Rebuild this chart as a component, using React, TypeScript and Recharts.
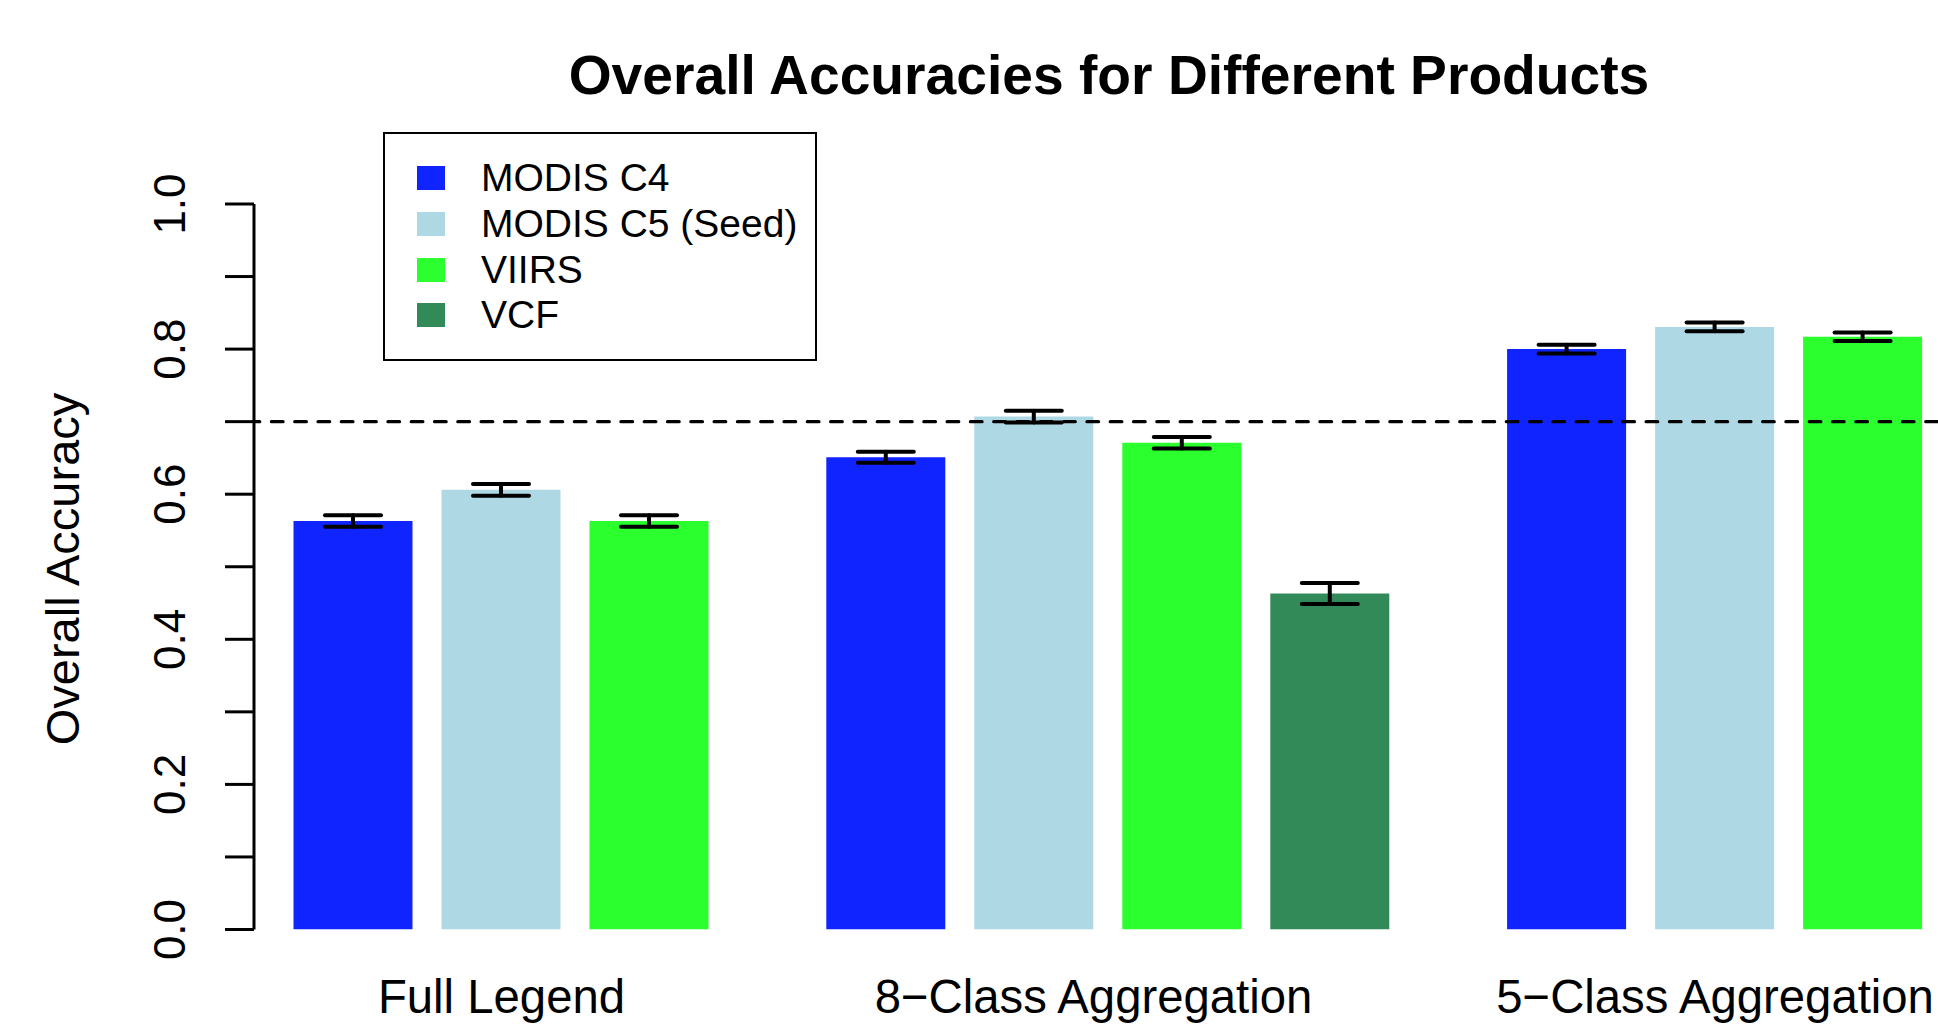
import React from 'react';
import { BarChart, Bar, XAxis, YAxis, Cell, ErrorBar, ReferenceLine, Legend } from 'recharts';

// ---------- data ----------
const groupLabels = ['Full Legend', '8\u2212Class Aggregation', '5\u2212Class Aggregation'];
const productNames = ['MODIS C4', 'MODIS C5 (Seed)', 'VIIRS', 'VCF'];
const productColors = ['#1024FF', '#AFD8E5', '#2BFF2E', '#338A59'];

// overall accuracy per group (null = product not evaluated in that group)
const modisC4 = [0.563, 0.651, 0.8];
const modisC5 = [0.606, 0.707, 0.8305];
const viirs = [0.563, 0.671, 0.817];
const vcf: (number | null)[] = [null, 0.463, null];

// half-width of the error bars
const modisC4Err = [0.008, 0.0075, 0.006];
const modisC5Err = [0.008, 0.008, 0.006];
const viirsErr = [0.008, 0.008, 0.006];
const vcfErr: (number | null)[] = [null, 0.0145, null];

// positions of the group labels along the bar axis (in bar-width units)
const groupLabelPositions = [1.25, 6.25, 11.5];

const yTicks = [0, 0.1, 0.2, 0.3, 0.4, 0.5, 0.6, 0.7, 0.8, 0.9, 1.0];
const referenceAccuracy = 0.7;

const title = 'Overall Accuracies for Different Products';
const yTitle = 'Overall Accuracy';

// ---------- build table ----------
const seriesValues = [modisC4, modisC5, viirs, vcf];
const seriesErrors = [modisC4Err, modisC5Err, viirsErr, vcfErr];

type Row = { x: number; value: number; err: number; color: string; product: string };
const data: Row[] = [];
{
  let pos = 0;
  groupLabels.forEach((_, g) => {
    seriesValues.forEach((vals, p) => {
      const v = vals[g];
      if (v === null || v === undefined) return;
      data.push({ x: pos, value: v, err: seriesErrors[p][g] as number, color: productColors[p], product: productNames[p] });
      pos += 1.25; // bar width 1 + space 0.25
    });
    pos += 0.75; // extra gap between groups
  });
}

// ---------- layout ----------
const FONT = '"Liberation Sans", Arial, Helvetica, sans-serif';
const UNIT_PX = 118.4;
const PLOT_LEFT = 254;
const PLOT_TOP = 204;
const PLOT_BOTTOM = 929.5;
const FIRST_BAR_PX = 353.5;
const X_MIN = -(FIRST_BAR_PX - PLOT_LEFT) / UNIT_PX;
const X_MAX = 14;
const CHART_W = PLOT_LEFT + (X_MAX - X_MIN) * UNIT_PX;
const CHART_H = 1024;

const YTick = (props: any) => {
  const { y, payload } = props;
  const v = payload.value as number;
  if (Math.round(v * 10) % 2 !== 0) return <g />;
  const bx = 185.2;
  return (
    <text x={bx} y={y} transform={`rotate(-90 ${bx} ${y})`} textAnchor="middle" fontFamily={FONT} fontSize={44} fill="#000">
      {v.toFixed(1)}
    </text>
  );
};

const XTick = (props: any) => {
  const { x, index } = props;
  return (
    <text x={x} y={1013.5} textAnchor="middle" fontFamily={FONT} fontSize={47.3} fill="#000">
      {groupLabels[index]}
    </text>
  );
};

const LegendBox = () => (
  <div
    style={{
      position: 'relative',
      width: 434,
      height: 229,
      border: '2.6px solid #000',
      boxSizing: 'border-box',
      background: '#fff',
      fontFamily: FONT,
    }}
  >
    {productNames.map((name, i) => {
      const cy = 47.5 + i * 45.6 - 2.6;
      return (
        <React.Fragment key={name}>
          <div style={{ position: 'absolute', left: 32, top: cy - 12, width: 28, height: 24, background: productColors[i] }} />
          <div style={{ position: 'absolute', left: 96, top: cy - 23, height: 46, lineHeight: '46px', fontSize: 39, color: '#000', whiteSpace: 'nowrap' }}>
            {name}
          </div>
        </React.Fragment>
      );
    })}
  </div>
);

export default function App() {
  return (
    <div style={{ position: 'fixed', left: 0, top: 0, width: 1938, height: 1024, overflow: 'hidden', background: '#fff' }}>
      <BarChart width={CHART_W} height={CHART_H} data={data} margin={{ top: PLOT_TOP, right: 0, bottom: 0, left: 0 }}>
        <XAxis
          type="number"
          dataKey="x"
          domain={[X_MIN, X_MAX]}
          allowDataOverflow
          ticks={groupLabelPositions}
          interval={0}
          axisLine={false}
          tickLine={false}
          height={CHART_H - PLOT_BOTTOM}
          tick={(p: any) => <XTick {...p} />}
        />
        <YAxis
          type="number"
          domain={[0, 1]}
          allowDataOverflow
          ticks={yTicks}
          interval={0}
          width={PLOT_LEFT}
          tickSize={29}
          axisLine={{ stroke: '#000', strokeWidth: 3 }}
          tickLine={{ stroke: '#000', strokeWidth: 3 }}
          tick={(p: any) => <YTick {...p} />}
        />
        <Bar dataKey="value" barSize={119} isAnimationActive={false}>
          {data.map((d, i) => (
            <Cell key={i} fill={d.color} />
          ))}
          <ErrorBar dataKey="err" width={28} strokeWidth={4} stroke="#000" strokeLinecap="round" isAnimationActive={false} />
        </Bar>
        <ReferenceLine
          y={referenceAccuracy}
          stroke="#000"
          strokeWidth={3.4}
          strokeDasharray="11.5 11.8"
          strokeDashoffset={5.8}
          strokeLinecap="round"
          ifOverflow="visible"
        />
        <Legend
          layout="vertical"
          align="center"
          verticalAlign="middle"
          wrapperStyle={{ left: 383, top: 131.5, width: 434, height: 229 }}
          content={() => <LegendBox />}
        />
        <text x={1109} y={94} textAnchor="middle" fontFamily={FONT} fontWeight="bold" fontSize={55.2} fill="#000">
          {title}
        </text>
        <text x={79} y={569} transform="rotate(-90 79 569)" textAnchor="middle" fontFamily={FONT} fontSize={47} fill="#000">
          {yTitle}
        </text>
      </BarChart>
    </div>
  );
}
